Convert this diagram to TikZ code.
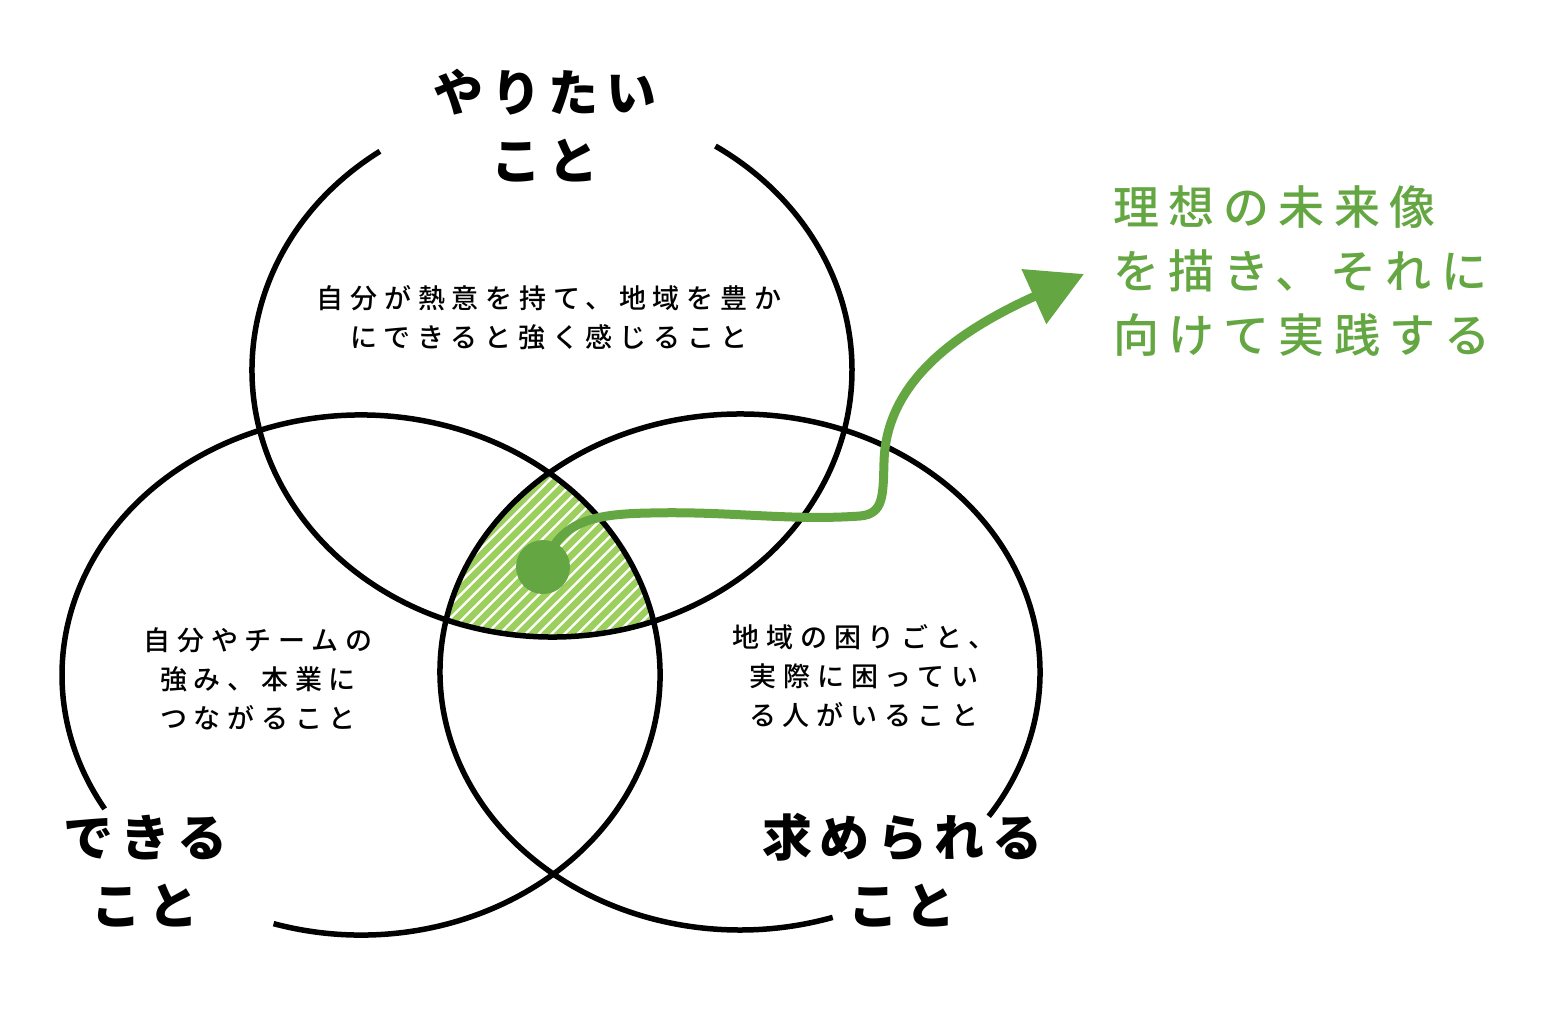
\documentclass[tikz,border=0pt]{standalone}
\usepackage{fontspec}
\usetikzlibrary{arrows.meta}
\newfontfamily\jpbody{Noto Sans CJK JP Medium}[LetterSpace=25]
\newfontfamily\jptitle{Noto Sans CJK JP}[LetterSpace=15]
\newfontfamily\jpvision{Noto Sans CJK JP Medium}[LetterSpace=20]
\definecolor{leafGreen}{RGB}{100,166,65}
\definecolor{stripeGreen}{RGB}{157,207,95}
\begin{document}
\begin{tikzpicture}[x=1pt, y=-1pt]
        \tikzset{
            ring/.style={draw=black, line width=5.5pt},
            stripeLine/.style={draw=stripeGreen, line width=6.5pt},
            flow/.style={draw=leafGreen, line width=9pt, -{Triangle[length=55pt, width=58pt]}},
            titleText/.style={font=\jptitle\bfseries\fontsize{50pt}{68pt}\selectfont, align=center, inner sep=0pt},
            bodyText/.style={font=\jpbody\fontsize{27pt}{39pt}\selectfont, align=center, inner sep=0pt},
            greenText/.style={font=\jpvision\fontsize{46pt}{64pt}\selectfont, text=leafGreen, align=left, inner sep=0pt}
        }

        \fill[white] (0,0) rectangle (1568,1020);
        \useasboundingbox (0,0) rectangle (1568,1020);

        \coordinate (topRing) at (552,370);
        \coordinate (leftRing) at (361,675);
        \coordinate (rightRing) at (740,672);

        \begin{scope}
            \clip (topRing) ellipse [x radius=300pt, y radius=267pt];
            \clip (leftRing) ellipse [x radius=299pt, y radius=260pt];
            \clip (rightRing) ellipse [x radius=300pt, y radius=258pt];
            \foreach \k in {0,...,40}
                \draw[stripeLine] (200+13*\k, 680) -- ++(300,-300);
        \end{scope}

        \draw[ring] ([shift={(125:300pt and 267pt)}]topRing)
            arc[start angle=125, end angle=417, x radius=300pt, y radius=267pt];
        \draw[ring] ([shift={(253:299pt and 260pt)}]leftRing)
            arc[start angle=253, end angle=571, x radius=299pt, y radius=260pt];
        \draw[ring] ([shift={(326:300pt and 258pt)}]rightRing)
            arc[start angle=326, end angle=648, x radius=300pt, y radius=258pt];

        \node[titleText] (wantTitle) at (545,126) {やりたい\\こと};
        \node[titleText] (canTitle) at (145,871) {できる\\こと};
        \node[titleText] (needTitle) at (902,870) {求められる\\こと};

        \node[bodyText] (wantText) at (549,318) {自分が熱意を持て、地域を豊か\\にできると強く感じること};
        \node[bodyText] (canText) at (258,679) {自分やチームの\\強み、本業に\\つながること};
        \node[bodyText] (needText) at (864,676) {地域の困りごと、\\実際に困ってい\\る人がいること};

        \node[greenText, anchor=west] (vision) at (1113,271) {理想の未来像\\を描き、それに\\向けて実践する};

        \node[circle, fill=leafGreen, minimum size=54pt, inner sep=0pt] (spot) at (543,567) {};
        \coordinate (tip) at (1084,274);
        \draw[flow] (spot.center) .. controls (560,522) and (590,514) .. (650,513)
            .. controls (730,511) and (790,521) .. (860,516)
            .. controls (884,514) and (883,495) .. (884,462)
            .. controls (886,380) and (960,330) .. (tip);
\end{tikzpicture}
\end{document}
